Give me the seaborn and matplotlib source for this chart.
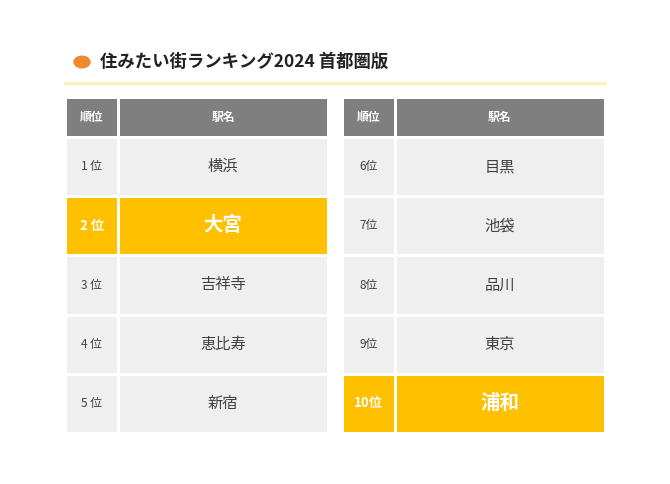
import numpy as np
import matplotlib
matplotlib.use("Agg")
import matplotlib.pyplot as plt
import seaborn as sns
from matplotlib.colors import ListedColormap

sns.set_theme(style="white", font="Noto Sans CJK JP")

title = "住みたい街ランキング2024 首都圏版"
header = ["順位", "駅名"]
left_ranks = ["1 位", "2 位", "3 位", "4 位", "5 位"]
left_names = ["横浜", "大宮", "吉祥寺", "恵比寿", "新宿"]
right_ranks = ["6位", "7位", "8位", "9位", "10位"]
right_names = ["目黒", "池袋", "品川", "東京", "浦和"]
left_highlight = [0, 1, 0, 0, 0]
right_highlight = [0, 0, 0, 0, 1]

W, H = 670, 484
fig = plt.figure(figsize=(W / 100, H / 100), dpi=100)
cmap = ListedColormap(["#7f7f7f", "#efefef", "#ffc000"])


def px_axes(x0, y0, x1, y1):
    return fig.add_axes([x0 / W, 1 - y1 / H, (x1 - x0) / W, (y1 - y0) / H])


def draw_column(x0, x1, head, labels, highlight, is_name):
    ax = px_axes(x0, 97, x1, 433)
    vals = np.array([0] + [1 + h for h in highlight]).reshape(-1, 1)
    sns.heatmap(vals, cmap=cmap, vmin=0, vmax=2, cbar=False, ax=ax,
                linewidths=1, linecolor="white", xticklabels=False, yticklabels=False)
    # header row is shorter than body rows: rescale y via limits trick not needed; use text only
    ax.text(0.5, 0.5, head, ha="center", va="center", color="white",
            fontsize=8.5, fontweight="bold")
    for i, (lab, h) in enumerate(zip(labels, highlight)):
        if h:
            ax.text(0.5, i + 1.5, lab, ha="center", va="center", color="white",
                    fontsize=14 if is_name else 10, fontweight="bold")
        else:
            ax.text(0.5, i + 1.5, lab, ha="center", va="center", color="#404040",
                    fontsize=11 if is_name else 8.5)
    # header row is ~40px, body rows ~59px: stretch by custom y mapping
    ax.set_ylim(6, 0)
    return ax


def draw_table(xa, xb, xc, ranks, names, highlight):
    for x0, x1, head, labs, is_name in [(xa, xb, header[0], ranks, False),
                                        (xb, xc, header[1], names, True)]:
        # header
        axh = px_axes(x0, 97, x1, 137)
        sns.heatmap(np.array([[0]]), cmap=cmap, vmin=0, vmax=2, cbar=False, ax=axh,
                    linewidths=1, linecolor="white", xticklabels=False, yticklabels=False)
        axh.text(0.5, 0.5, head, ha="center", va="center", color="white",
                 fontsize=8.5, fontweight="bold")
        axb = px_axes(x0, 137, x1, 433)
        vals = np.array([1 + h for h in highlight]).reshape(-1, 1)
        sns.heatmap(vals, cmap=cmap, vmin=0, vmax=2, cbar=False, ax=axb,
                    linewidths=1, linecolor="white", xticklabels=False, yticklabels=False)
        for i, (lab, h) in enumerate(zip(labs, highlight)):
            if h:
                axb.text(0.5, i + 0.5, lab, ha="center", va="center", color="white",
                         fontsize=14 if is_name else 9.5, fontweight="bold")
            else:
                axb.text(0.5, i + 0.5, lab, ha="center", va="center", color="#404040",
                         fontsize=11 if is_name else 8.5)


draw_table(65, 118, 328, left_ranks, left_names, left_highlight)
draw_table(342, 395, 605, right_ranks, right_names, right_highlight)

# title
fig.patches.append(matplotlib.patches.Circle((82 / W, 1 - 62 / H), 8 / W,
                   transform=fig.transFigure, color="#f08a30", figure=fig))
fig.text(100 / W, 1 - 62 / H, title, ha="left", va="center", fontsize=12.5,
         fontweight="bold", color="#222222")
fig.add_artist(plt.Line2D([65 / W, 605 / W], [1 - 83 / H] * 2, color="#fdf0c0",
                          linewidth=2.5, transform=fig.transFigure))

fig.savefig("out.png", dpi=100)
